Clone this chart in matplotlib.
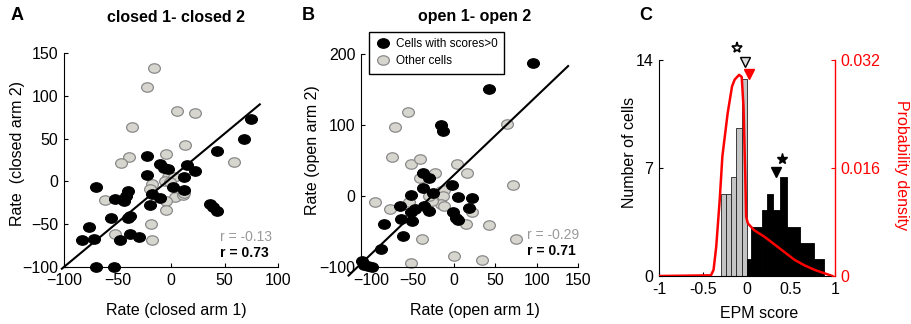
import matplotlib
matplotlib.use('Agg')
import matplotlib.pyplot as plt
from matplotlib.path import Path
from matplotlib.transforms import Affine2D

plt.rcParams['font.family'] = ['Liberation Sans', 'DejaVu Sans']

# panel A: closed arm 1 vs closed arm 2
a_pos_x = [75, 68, 43, -22, -10, 15, 22, -7, -3, -22, 12, -70, 2, 12, -40, -42, -52, -44, -18,
           -10, -20, 36, 39, 43, -56, -40, -38, -77, -38, -30, -83, -72, -48, -70, -53]
a_pos_y = [73, 50, 35, 30, 20, 19, 12, 16, 14, 7, 5, -6, -7, -10, -11, -17, -21, -23, -15,
           -19, -28, -26, -30, -34, -43, -43, -41, -53, -61, -65, -68, -67, -68, -100, -100]
a_oth_x = [-16, -22, 6, 22, -36, 13, -39, -47, -5, 59, -3, 3, -6, -1, -18, -20, -62, 4, 11,
           12, -5, -5, -19, -52, -18]
a_oth_y = [132, 110, 82, 80, 63, 42, 28, 21, 32, 23, 5, 5, 0, -1, -3, -9, -22, -18, -16,
           -14, -23, -33, -50, -61, -69]
a_fit_x = [-102, 83]
a_fit_y = [-102, 90]
a_r_other = 'r = -0.13'
a_r_pos = 'r = 0.73'

# panel B: open arm 1 vs open arm 2
b_pos_x = [95, 42, -16, -14, -38, -31, -3, -38, -26, -53, 5, 21, -37, -66, -47, -31, -52, -2,
           18, -64, -51, 2, 5, -85, -62, -89, -112, -109, -104, -100]
b_pos_y = [187, 151, 100, 91, 32, 25, 16, 11, 4, 2, -2, -3, -14, -14, -18, -21, -23, -23,
           -17, -32, -35, -31, -34, -39, -56, -74, -91, -97, -98, -100]
b_oth_x = [-56, -72, 64, -75, -52, -41, 3, 16, -23, -42, 71, -96, -78, -55, -16, -12, -14,
           -16, -12, -27, -31, 22, 14, 42, -39, 75, 0, -52, 34]
b_oth_y = [118, 97, 102, 55, 45, 52, 45, 32, 32, 25, 15, -8, -19, -9, 7, 9, 0, -11, -14,
           -7, 0, -23, -39, -41, -60, -60, -84, -95, -90]
b_fit_x = [-128, 138]
b_fit_y = [-112, 183]
b_r_other = 'r = -0.29'
b_r_pos = 'r = 0.71'

# panel C: EPM score histogram + density
gray_edges = [-0.30, -0.24, -0.18, -0.12, -0.06]
gray_counts = [5.33, 5.33, 6.4, 9.6, 12.8]
gray_width = 0.06
black_edges = [0.0, 0.05, 0.17, 0.23, 0.30, 0.38, 0.46, 0.60, 0.76, 0.88]
black_counts = [1.07, 3.2, 4.27, 5.33, 4.27, 6.4, 3.2, 2.13, 1.07]
dens_x = [-1.0, -0.41, -0.38, -0.35, -0.31, -0.28, -0.22, -0.17, -0.14, -0.09, -0.06, -0.04,
          -0.02, -0.01, 0.01, 0.08, 0.20, 0.31, 0.42, 0.54, 0.65, 0.77, 0.88, 0.97]
dens_y = [0.0, 0.0001, 0.0009, 0.0043, 0.0113, 0.0177, 0.0241, 0.0281, 0.0291, 0.0298, 0.0295,
          0.0251, 0.0152, 0.0088, 0.0078, 0.0068, 0.0058, 0.0047, 0.0036, 0.0024, 0.0016,
          0.0009, 0.0004, 0.0]
neg_star = (-0.11, 14.75)
neg_mean = (-0.02, 13.85)
all_mean = (0.025, 13.1)
pos_mean = (0.33, 6.75)
pos_star = (0.40, 7.6)

GRAY_FILL = '#d6d5ce'
GRAY_EDGE = '#8a8a8a'
TICK_FS = 11.5
LABEL_FS = 11.5
W, H = 911.0, 324.0


def style_axes(ax):
    for side in ['top', 'right']:
        ax.spines[side].set_visible(False)
    ax.tick_params(direction='in', length=3, labelsize=TICK_FS, width=0.8, pad=4)


def place_labels(fig, ax, xlab, xpos, ylab, ypos, color='black', rot=90):
    # pixel positions (from the top-left) of the label centres
    ax.set_xlabel(xlab, fontsize=LABEL_FS)
    ax.set_ylabel(ylab, fontsize=LABEL_FS, color=color, rotation=rot)
    ax.xaxis.set_label_coords(xpos[0] / W, 1 - xpos[1] / H, transform=fig.transFigure)
    ax.yaxis.set_label_coords(ypos[0] / W, 1 - ypos[1] / H, transform=fig.transFigure)
    ax.xaxis.label.set_va('center')
    ax.yaxis.label.set_va('center')


ellipse = Path.unit_circle().transformed(Affine2D().scale(1.0, 0.8))


def scatter_panel(ax, pos_x, pos_y, oth_x, oth_y, fit_x, fit_y):
    ax.plot(oth_x, oth_y, linestyle='none', marker=ellipse, markersize=8.5,
            markerfacecolor=GRAY_FILL, markeredgecolor=GRAY_EDGE, markeredgewidth=0.9,
            clip_on=False, label='Other cells', zorder=2)
    ax.plot(pos_x, pos_y, linestyle='none', marker=ellipse, markersize=8.5,
            markerfacecolor='black', markeredgecolor='black', markeredgewidth=0.9,
            clip_on=False, label='Cells with scores>0', zorder=3)
    ax.plot(fit_x, fit_y, color='black', lw=1.5, clip_on=False, zorder=4)
    style_axes(ax)


def main():
    fig = plt.figure(figsize=(9.11, 3.24), dpi=100)

    def add(left, top, right, bottom):
        return fig.add_axes([left / W, 1 - bottom / H, (right - left) / W, (bottom - top) / H])

    # ---- A
    ax_a = add(64, 53, 278, 267)
    scatter_panel(ax_a, a_pos_x, a_pos_y, a_oth_x, a_oth_y, a_fit_x, a_fit_y)
    ax_a.set_xlim(-100, 100)
    ax_a.set_ylim(-100, 150)
    ax_a.set_xticks([-100, -50, 0, 50, 100])
    ax_a.set_yticks([-100, -50, 0, 50, 100, 150])
    place_labels(fig, ax_a, 'Rate (closed arm 1)', (176, 311), 'Rate  (closed arm 2)', (18, 154))
    fig.text(176 / W, 1 - 17 / H, 'closed 1- closed 2', fontsize=11.5, fontweight='bold',
             ha='center', va='center')
    fig.text(11 / W, 1 - 15 / H, 'A', fontsize=13, fontweight='bold', ha='left', va='center')
    fig.text(220 / W, 1 - 237 / H, a_r_other, color='#999999', fontsize=10, va='center')
    fig.text(220 / W, 1 - 253 / H, a_r_pos, color='black', fontsize=10, fontweight='bold',
             va='center')

    # ---- B
    ax_b = add(361, 54, 578, 267)
    scatter_panel(ax_b, b_pos_x, b_pos_y, b_oth_x, b_oth_y, b_fit_x, b_fit_y)
    ax_b.set_xlim(-113, 150)
    ax_b.set_ylim(-100, 200)
    ax_b.set_xticks([-100, -50, 0, 50, 100, 150])
    ax_b.set_yticks([-100, 0, 100, 200])
    place_labels(fig, ax_b, 'Rate (open arm 1)', (475, 311), 'Rate (open arm 2)', (313, 150))
    fig.text(475 / W, 1 - 17 / H, 'open 1- open 2', fontsize=11.5, fontweight='bold',
             ha='center', va='center')
    fig.text(302 / W, 1 - 15 / H, 'B', fontsize=13, fontweight='bold', ha='left', va='center')
    fig.text(527 / W, 1 - 235 / H, b_r_other, color='#999999', fontsize=10, va='center')
    fig.text(527 / W, 1 - 251 / H, b_r_pos, color='black', fontsize=10, fontweight='bold',
             va='center')
    handles, labels = ax_b.get_legend_handles_labels()
    leg = ax_b.legend(handles[::-1], labels[::-1], loc='upper left',
                      bbox_to_anchor=(369 / W, 1 - 32 / H), bbox_transform=fig.transFigure,
                      borderaxespad=0, fontsize=8.5, fancybox=False, framealpha=1,
                      edgecolor='black', handletextpad=0.4, handlelength=1.3,
                      borderpad=0.55, labelspacing=0.4)
    leg.get_frame().set_linewidth(1.0)

    # ---- C
    ax_c = add(659, 60, 835, 276)
    ax_c.bar(gray_edges, gray_counts, width=gray_width, align='edge', color='#c4c4c4',
             edgecolor='#222222', linewidth=0.6, zorder=2)
    black_widths = [black_edges[i + 1] - black_edges[i] for i in range(len(black_counts))]
    ax_c.bar(black_edges[:-1], black_counts, width=black_widths, align='edge', color='black',
             edgecolor='black', linewidth=0.6, zorder=2)
    ax_c.set_xlim(-1, 1)
    ax_c.set_ylim(0, 14)
    ax_c.set_xticks([-1, -0.5, 0, 0.5, 1])
    ax_c.set_xticklabels(['-1', '-0.5', '0', '0.5', '1'])
    ax_c.set_yticks([0, 7, 14])
    style_axes(ax_c)
    place_labels(fig, ax_c, 'EPM score', (759, 313), 'Number of cells', (630, 152))
    ax_c.plot(*neg_star, marker='*', markersize=8, markerfacecolor='white',
              markeredgecolor='black', markeredgewidth=1.2, clip_on=False, zorder=5)
    ax_c.plot(*neg_mean, marker='v', markersize=7, markerfacecolor='#dddddd',
              markeredgecolor='black', markeredgewidth=1.0, clip_on=False, zorder=5)
    ax_c.plot(*all_mean, marker='v', markersize=7, color='red', clip_on=False, zorder=5)
    ax_c.plot(*pos_mean, marker='v', markersize=7, color='black', clip_on=False, zorder=5)
    ax_c.plot(*pos_star, marker='*', markersize=8, color='black', clip_on=False, zorder=5)
    fig.text(639 / W, 1 - 15 / H, 'C', fontsize=13, fontweight='bold', ha='left', va='center')

    ax_d = ax_c.twinx()
    ax_d.plot(dens_x, dens_y, color='red', lw=1.8)
    ax_d.set_ylim(0, 0.032)
    ax_d.set_yticks([0, 0.016, 0.032])
    ax_d.set_yticklabels(['0', '0.016', '0.032'])
    for side in ['top', 'left', 'bottom']:
        ax_d.spines[side].set_visible(False)
    ax_d.spines['right'].set_color('red')
    ax_d.spines['right'].set_linewidth(1.0)
    ax_d.tick_params(direction='in', length=3, labelsize=TICK_FS, colors='red', pad=4)
    ax_d.set_ylabel('Probability density', color='red', fontsize=LABEL_FS, rotation=270)
    ax_d.yaxis.set_label_coords(901 / W, 1 - 165 / H, transform=fig.transFigure)
    ax_d.yaxis.label.set_va('center')

    fig.savefig('out.png', dpi=100)


if __name__ == "__main__":
    main()
